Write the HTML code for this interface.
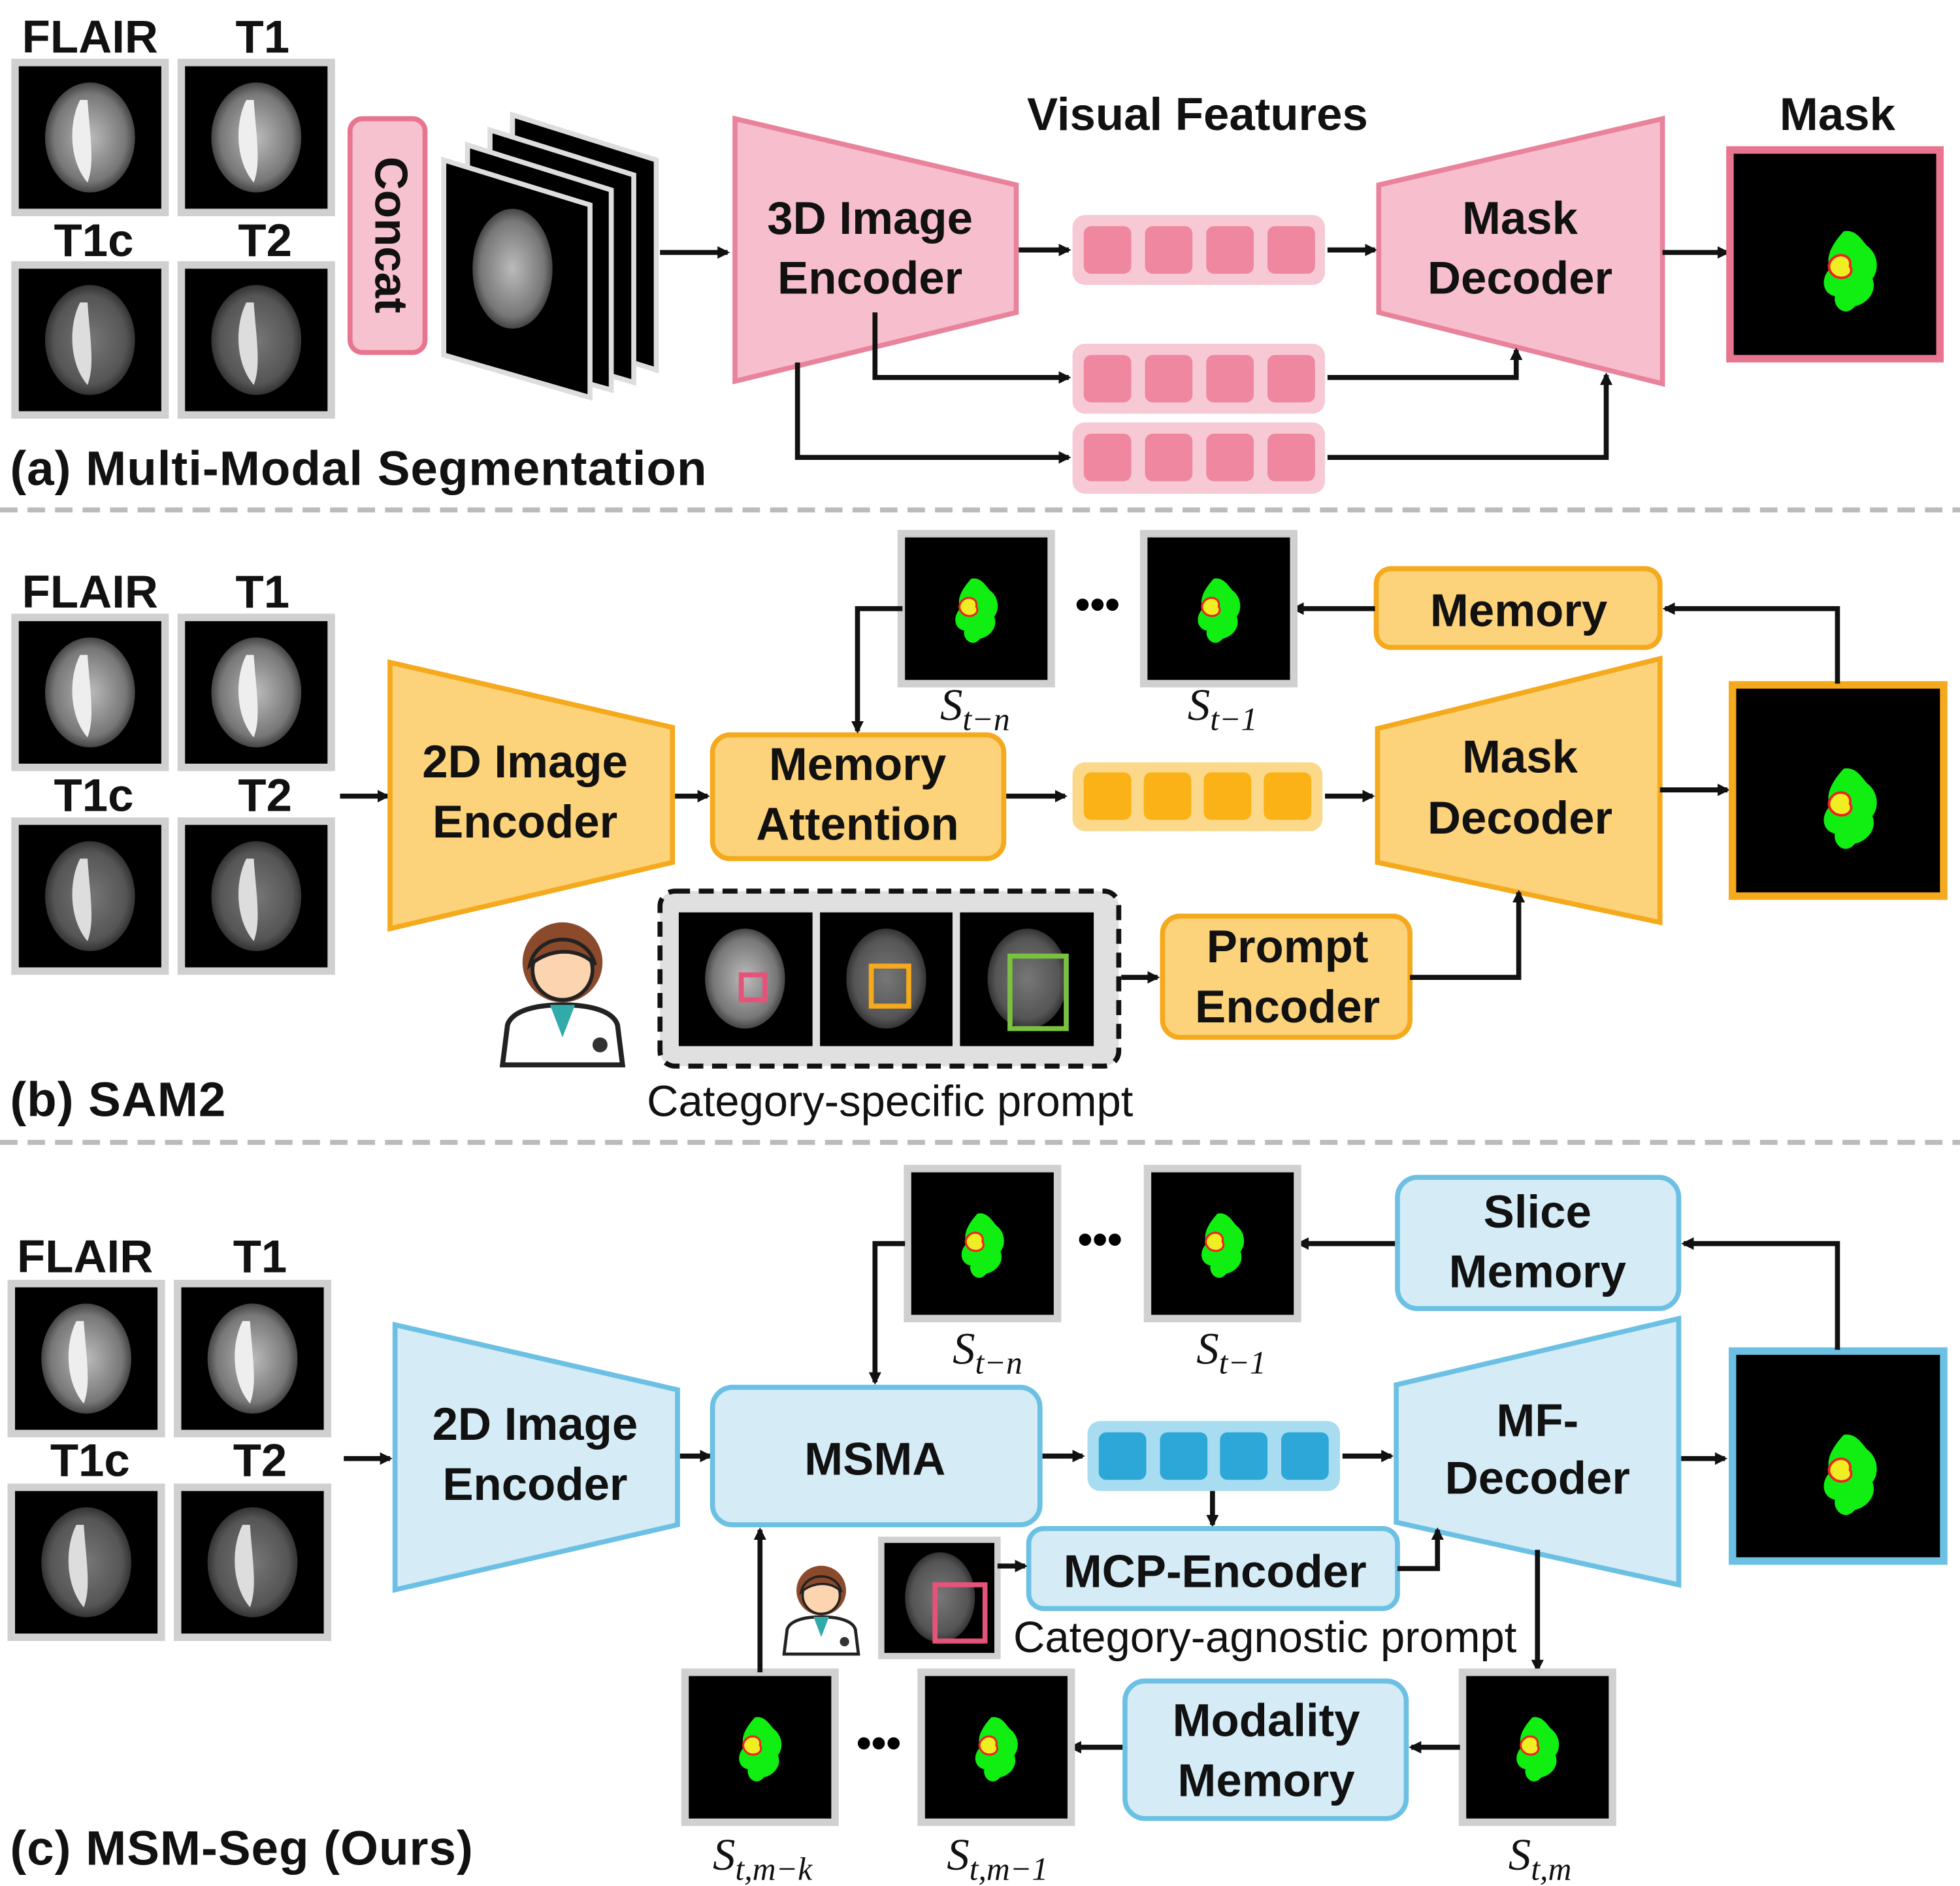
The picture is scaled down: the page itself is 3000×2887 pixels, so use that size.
<!DOCTYPE html>
<html><head><meta charset="utf-8">
<style>
html,body{margin:0;padding:0;background:#fff;}
svg{display:block;}
text{font-family:"Liberation Sans","DejaVu Sans",sans-serif;}
.b{font-weight:bold;font-size:37px;fill:#111;}
.lab{font-weight:bold;font-size:39px;fill:#111;letter-spacing:0.5px;}
.s{font-family:"Liberation Serif",serif;font-style:italic;font-size:36px;fill:#111;}
.ln{stroke:#111;stroke-width:4;fill:none;}
</style></head><body>
<svg width="3000" height="2887" viewBox="0 0 1568 1509" xmlns="http://www.w3.org/2000/svg">
<defs>
<marker id="ah" markerWidth="10" markerHeight="10" refX="8" refY="5" orient="auto" markerUnits="userSpaceOnUse">
<path d="M0,0 L10,5 L0,10 z" fill="#111"/></marker>
<radialGradient id="bg" cx="50%" cy="50%" r="50%"><stop offset="0" stop-color="#bbb"/><stop offset="0.8" stop-color="#777"/><stop offset="1" stop-color="#444"/></radialGradient>
<radialGradient id="bd" cx="50%" cy="50%" r="50%"><stop offset="0" stop-color="#777"/><stop offset="0.8" stop-color="#555"/><stop offset="1" stop-color="#333"/></radialGradient>
<g id="brain"><rect x="-60" y="-60" width="120" height="120" fill="#000" stroke="#d0d0d0" stroke-width="6"/>
<ellipse cx="0" cy="0" rx="36" ry="44" fill="url(#bg)"/><path d="M-8,-30 C-18,-10 -16,20 -2,36 C4,20 0,0 -2,-30 z" fill="#eee"/></g>
<g id="brainD"><rect x="-60" y="-60" width="120" height="120" fill="#000" stroke="#d0d0d0" stroke-width="6"/>
<ellipse cx="0" cy="0" rx="36" ry="44" fill="url(#bd)"/><path d="M-8,-30 C-18,-10 -16,20 -2,36 C4,20 0,0 -2,-30 z" fill="#ddd"/></g>
<g id="blob"><path d="M-5,-30 C5,-32 10,-22 14,-18 C22,-12 24,0 18,8 C22,18 14,28 4,30 C-4,40 -14,30 -12,22 C-22,20 -24,8 -16,0 C-20,-10 -14,-20 -5,-30 z" fill="#11ee11"/>
<path d="M-14,-8 C-8,-14 2,-10 0,-2 C4,4 -4,10 -12,6 C-18,2 -18,-4 -14,-8 z" fill="#ee2" stroke="#e22" stroke-width="2"/></g>
<g id="mask"><rect x="-60" y="-60" width="120" height="120" fill="#000" stroke="#d0d0d0" stroke-width="6"/><use href="#blob" transform="scale(0.8)"/></g>
<g id="doc"><circle cx="0" cy="-20" r="32" fill="#8b4a2b"/><circle cx="0" cy="-14" r="24" fill="#fcd5b0" stroke="#222" stroke-width="3"/><path d="M-26,-18 C-20,-45 20,-45 26,-18 C14,-32 -10,-32 -26,-18z" fill="#8b4a2b" stroke="#222" stroke-width="3"/>
<path d="M-48,62 L-44,30 C-40,18 -20,14 0,14 C20,14 40,18 44,30 L48,62 z" fill="#fff" stroke="#222" stroke-width="4"/><path d="M-10,14 L0,40 L10,14z" fill="#3aa"/><circle cx="30" cy="46" r="6" fill="#333"/></g>
</defs>

<!-- ===== (a) ===== -->
<text class="b" x="72" y="42" text-anchor="middle">FLAIR</text>
<text class="b" x="210" y="42" text-anchor="middle">T1</text>
<text class="b" x="75" y="205" text-anchor="middle">T1c</text>
<text class="b" x="212" y="205" text-anchor="middle">T2</text>
<use href="#brain" x="72" y="110"/><use href="#brain" x="205" y="110"/><use href="#brainD" x="72" y="272"/><use href="#brainD" x="205" y="272"/>
<rect x="280" y="95" width="60" height="187" rx="10" fill="#f7c2cf" stroke="#e8758f" stroke-width="4"/>
<text class="b" x="310" y="188" text-anchor="middle" dominant-baseline="middle" transform="rotate(90 310 188)">Concat</text>
<g stroke="#ddd" stroke-width="4" fill="#000">
<polygon points="410,92 525,128 525,296 410,260"/>
<polygon points="392,104 507,140 507,306 392,272"/>
<polygon points="374,116 489,152 489,312 374,280"/>
<polygon points="355,128 472,164 472,318 355,284"/>
</g>
<ellipse cx="410" cy="215" rx="32" ry="48" fill="url(#bg)"/>
<line class="ln" x1="528" y1="202" x2="582" y2="202" marker-end="url(#ah)"/>
<polygon points="588,95 813,148 813,250 588,305" fill="#f7bfcd" stroke="#e8839b" stroke-width="4"/>
<text class="b" x="696" y="187" text-anchor="middle">3D Image</text>
<text class="b" x="696" y="235" text-anchor="middle">Encoder</text>
<text class="b" x="958" y="104" text-anchor="middle">Visual Features</text>
<g fill="#f7c9d4"><rect x="858" y="172" width="202" height="56" rx="10"/><rect x="858" y="275" width="202" height="56" rx="10"/><rect x="858" y="338" width="202" height="57" rx="10"/></g>
<g fill="#ee879f">
<rect x="867" y="181" width="38" height="38" rx="6"/><rect x="916" y="181" width="38" height="38" rx="6"/><rect x="965" y="181" width="38" height="38" rx="6"/><rect x="1014" y="181" width="38" height="38" rx="6"/>
<rect x="867" y="284" width="38" height="38" rx="6"/><rect x="916" y="284" width="38" height="38" rx="6"/><rect x="965" y="284" width="38" height="38" rx="6"/><rect x="1014" y="284" width="38" height="38" rx="6"/>
<rect x="867" y="347" width="38" height="38" rx="6"/><rect x="916" y="347" width="38" height="38" rx="6"/><rect x="965" y="347" width="38" height="38" rx="6"/><rect x="1014" y="347" width="38" height="38" rx="6"/>
</g>
<line class="ln" x1="815" y1="200" x2="855" y2="200" marker-end="url(#ah)"/>
<line class="ln" x1="1062" y1="200" x2="1100" y2="200" marker-end="url(#ah)"/>
<polygon points="1103,148 1330,95 1330,307 1103,250" fill="#f7bfcd" stroke="#e8839b" stroke-width="4"/>
<text class="b" x="1216" y="187" text-anchor="middle">Mask</text>
<text class="b" x="1216" y="235" text-anchor="middle">Decoder</text>
<line class="ln" x1="1330" y1="202" x2="1382" y2="202" marker-end="url(#ah)"/>
<text class="b" x="1470" y="104" text-anchor="middle">Mask</text>
<rect x="1384" y="120" width="168" height="167" fill="#000" stroke="#e8758f" stroke-width="6"/>
<use href="#blob" x="1480" y="215"/>
<polyline class="ln" points="700,250 700,302 855,302" marker-end="url(#ah)"/>
<polyline class="ln" points="638,290 638,366 855,366" marker-end="url(#ah)"/>
<polyline class="ln" points="1062,302 1213,302 1213,280" marker-end="url(#ah)"/>
<polyline class="ln" points="1062,366 1285,366 1285,300" marker-end="url(#ah)"/>
<text class="lab" x="8" y="388">(a) Multi-Modal Segmentation</text>
<line x1="0" y1="408" x2="1568" y2="408" stroke="#bbb" stroke-width="4" stroke-dasharray="14,8"/>

<!-- ===== (b) ===== -->
<text class="b" x="72" y="486" text-anchor="middle">FLAIR</text>
<text class="b" x="210" y="486" text-anchor="middle">T1</text>
<text class="b" x="75" y="649" text-anchor="middle">T1c</text>
<text class="b" x="212" y="649" text-anchor="middle">T2</text>
<use href="#brain" x="72" y="554"/><use href="#brain" x="205" y="554"/><use href="#brainD" x="72" y="717"/><use href="#brainD" x="205" y="717"/>
<line class="ln" x1="272" y1="637" x2="310" y2="637" marker-end="url(#ah)"/>
<polygon points="312,530 538,582 538,690 312,743" fill="#fcd27a" stroke="#f5a91d" stroke-width="4"/>
<text class="b" x="420" y="622" text-anchor="middle">2D Image</text>
<text class="b" x="420" y="670" text-anchor="middle">Encoder</text>
<line class="ln" x1="540" y1="637" x2="566" y2="637" marker-end="url(#ah)"/>
<rect x="570" y="588" width="233" height="99" rx="14" fill="#fcd27a" stroke="#f5a91d" stroke-width="4"/>
<text class="b" x="686" y="624" text-anchor="middle">Memory</text>
<text class="b" x="686" y="672" text-anchor="middle">Attention</text>
<line class="ln" x1="805" y1="637" x2="852" y2="637" marker-end="url(#ah)"/>
<rect x="858" y="610" width="200" height="55" rx="10" fill="#fbd88a"/>
<g fill="#fbb216"><rect x="867" y="618" width="38" height="38" rx="6"/><rect x="915" y="618" width="38" height="38" rx="6"/><rect x="963" y="618" width="38" height="38" rx="6"/><rect x="1011" y="618" width="38" height="38" rx="6"/></g>
<line class="ln" x1="1060" y1="637" x2="1098" y2="637" marker-end="url(#ah)"/>
<polygon points="1102,583 1328,527 1328,738 1102,690" fill="#fcd27a" stroke="#f5a91d" stroke-width="4"/>
<text class="b" x="1216" y="618" text-anchor="middle">Mask</text>
<text class="b" x="1216" y="667" text-anchor="middle">Decoder</text>
<line class="ln" x1="1328" y1="632" x2="1382" y2="632" marker-end="url(#ah)"/>
<rect x="1386" y="548" width="169" height="169" fill="#000" stroke="#f5a91d" stroke-width="6"/>
<use href="#blob" x="1480" y="645"/>
<polyline class="ln" points="1470,547 1470,487 1332,487" marker-end="url(#ah)"/>
<rect x="1101" y="455" width="227" height="63" rx="12" fill="#fcd27a" stroke="#f5a91d" stroke-width="4"/>
<text class="b" x="1215" y="501" text-anchor="middle">Memory</text>
<line class="ln" x1="1100" y1="487" x2="1035" y2="487" marker-end="url(#ah)"/>
<use href="#mask" x="975" y="487"/><use href="#mask" x="781" y="487"/>
<text x="878" y="495" text-anchor="middle" font-size="34" font-weight="bold">•••</text>
<polyline class="ln" points="722,487 686,487 686,585" marker-end="url(#ah)"/>
<text class="s" x="780" y="576" text-anchor="middle">S<tspan font-size="26" dy="8">t−n</tspan></text>
<text class="s" x="978" y="576" text-anchor="middle">S<tspan font-size="26" dy="8">t−1</tspan></text>
<use href="#doc" x="450" y="790"/>
<rect x="528" y="713" width="367" height="140" rx="12" fill="#e0e0e0" stroke="#111" stroke-width="4" stroke-dasharray="12,7"/>
<g><rect x="543" y="730" width="107" height="107" fill="#000"/><ellipse cx="596" cy="783" rx="32" ry="40" fill="url(#bg)"/>
<rect x="656" y="730" width="106" height="107" fill="#000"/><ellipse cx="709" cy="783" rx="32" ry="40" fill="url(#bd)"/>
<rect x="768" y="730" width="107" height="107" fill="#000"/><ellipse cx="822" cy="783" rx="32" ry="40" fill="url(#bd)"/></g>
<rect x="593" y="780" width="19" height="20" fill="none" stroke="#e4537a" stroke-width="4"/>
<rect x="697" y="773" width="30" height="32" fill="none" stroke="#f5a91d" stroke-width="4"/>
<rect x="808" y="765" width="45" height="58" fill="none" stroke="#7ac142" stroke-width="4"/>
<line class="ln" x1="897" y1="782" x2="926" y2="782" marker-end="url(#ah)"/>
<rect x="930" y="733" width="198" height="97" rx="14" fill="#fcd27a" stroke="#f5a91d" stroke-width="4"/>
<text class="b" x="1030" y="770" text-anchor="middle">Prompt</text>
<text class="b" x="1030" y="818" text-anchor="middle">Encoder</text>
<polyline class="ln" points="1128,782 1215,782 1215,714" marker-end="url(#ah)"/>
<text x="712" y="893" text-anchor="middle" font-size="35" fill="#111">Category-specific prompt</text>
<text class="lab" x="8" y="893">(b) SAM2</text>
<line x1="0" y1="914" x2="1568" y2="914" stroke="#bbb" stroke-width="4" stroke-dasharray="14,8"/>

<!-- ===== (c) ===== -->
<text class="b" x="68" y="1018" text-anchor="middle">FLAIR</text>
<text class="b" x="208" y="1018" text-anchor="middle">T1</text>
<text class="b" x="72" y="1181" text-anchor="middle">T1c</text>
<text class="b" x="208" y="1181" text-anchor="middle">T2</text>
<use href="#brain" x="69" y="1087"/><use href="#brain" x="202" y="1087"/><use href="#brainD" x="69" y="1250"/><use href="#brainD" x="202" y="1250"/>
<line class="ln" x1="275" y1="1167" x2="312" y2="1167" marker-end="url(#ah)"/>
<polygon points="316,1060 542,1112 542,1220 316,1272" fill="#d5ecf7" stroke="#6cc0e3" stroke-width="4"/>
<text class="b" x="428" y="1152" text-anchor="middle">2D Image</text>
<text class="b" x="428" y="1200" text-anchor="middle">Encoder</text>
<line class="ln" x1="544" y1="1165" x2="568" y2="1165" marker-end="url(#ah)"/>
<rect x="570" y="1110" width="262" height="110" rx="16" fill="#d5ecf7" stroke="#6cc0e3" stroke-width="4"/>
<text class="b" x="700" y="1180" text-anchor="middle">MSMA</text>
<line class="ln" x1="834" y1="1165" x2="866" y2="1165" marker-end="url(#ah)"/>
<rect x="870" y="1137" width="202" height="56" rx="10" fill="#a8dcf0"/>
<g fill="#2da6d8"><rect x="879" y="1146" width="38" height="38" rx="6"/><rect x="928" y="1146" width="38" height="38" rx="6"/><rect x="976" y="1146" width="38" height="38" rx="6"/><rect x="1025" y="1146" width="38" height="38" rx="6"/></g>
<line class="ln" x1="1074" y1="1165" x2="1113" y2="1165" marker-end="url(#ah)"/>
<polygon points="1117,1108 1343,1055 1343,1268 1117,1218" fill="#d5ecf7" stroke="#6cc0e3" stroke-width="4"/>
<text class="b" x="1230" y="1149" text-anchor="middle">MF-</text>
<text class="b" x="1230" y="1195" text-anchor="middle">Decoder</text>
<line class="ln" x1="1345" y1="1167" x2="1380" y2="1167" marker-end="url(#ah)"/>
<rect x="1386" y="1081" width="169" height="168" fill="#000" stroke="#6cc0e3" stroke-width="6"/>
<use href="#blob" x="1480" y="1178"/>
<polyline class="ln" points="1470,1080 1470,995 1347,995" marker-end="url(#ah)"/>
<rect x="1118" y="942" width="225" height="105" rx="16" fill="#d5ecf7" stroke="#6cc0e3" stroke-width="4"/>
<text class="b" x="1230" y="982" text-anchor="middle">Slice</text>
<text class="b" x="1230" y="1030" text-anchor="middle">Memory</text>
<line class="ln" x1="1116" y1="995" x2="1039" y2="995" marker-end="url(#ah)"/>
<use href="#mask" x="978" y="995"/><use href="#mask" x="786" y="995"/>
<text x="880" y="1003" text-anchor="middle" font-size="34" font-weight="bold">•••</text>
<polyline class="ln" points="724,995 700,995 700,1106" marker-end="url(#ah)"/>
<text class="s" x="790" y="1091" text-anchor="middle">S<tspan font-size="26" dy="8">t−n</tspan></text>
<text class="s" x="985" y="1091" text-anchor="middle">S<tspan font-size="26" dy="8">t−1</tspan></text>
<line class="ln" x1="970" y1="1193" x2="970" y2="1220" marker-end="url(#ah)"/>
<rect x="823" y="1223" width="295" height="64" rx="12" fill="#d5ecf7" stroke="#6cc0e3" stroke-width="4"/>
<text class="b" x="972" y="1270" text-anchor="middle">MCP-Encoder</text>
<polyline class="ln" points="1118,1255 1150,1255 1150,1224" marker-end="url(#ah)"/>
<use href="#doc" transform="translate(657,1285) scale(0.62)"/>
<rect x="705" y="1232" width="93" height="93" fill="#000" stroke="#d0d0d0" stroke-width="5"/>
<ellipse cx="752" cy="1278" rx="28" ry="36" fill="url(#bd)"/>
<rect x="748" y="1268" width="40" height="45" fill="none" stroke="#e4537a" stroke-width="4"/>
<line class="ln" x1="798" y1="1253" x2="820" y2="1253" marker-end="url(#ah)"/>
<text x="1012" y="1322" text-anchor="middle" font-size="35" fill="#111">Category-agnostic prompt</text>
<line class="ln" x1="1230" y1="1240" x2="1230" y2="1336" marker-end="url(#ah)"/>
<use href="#mask" x="1230" y="1398"/>
<line class="ln" x1="1168" y1="1398" x2="1129" y2="1398" marker-end="url(#ah)"/>
<rect x="900" y="1345" width="225" height="110" rx="16" fill="#d5ecf7" stroke="#6cc0e3" stroke-width="4"/>
<text class="b" x="1013" y="1389" text-anchor="middle">Modality</text>
<text class="b" x="1013" y="1437" text-anchor="middle">Memory</text>
<line class="ln" x1="898" y1="1398" x2="857" y2="1398" marker-end="url(#ah)"/>
<use href="#mask" x="797" y="1398"/>
<text x="703" y="1406" text-anchor="middle" font-size="34" font-weight="bold">•••</text>
<use href="#mask" x="608" y="1398"/>
<line class="ln" x1="608" y1="1338" x2="608" y2="1224" marker-end="url(#ah)"/>
<text class="s" x="610" y="1496" text-anchor="middle">S<tspan font-size="26" dy="8">t,m−k</tspan></text>
<text class="s" x="798" y="1496" text-anchor="middle">S<tspan font-size="26" dy="8">t,m−1</tspan></text>
<text class="s" x="1232" y="1496" text-anchor="middle">S<tspan font-size="26" dy="8">t,m</tspan></text>
<text class="lab" x="8" y="1492">(c) MSM-Seg (Ours)</text>
</svg>
</body></html>
